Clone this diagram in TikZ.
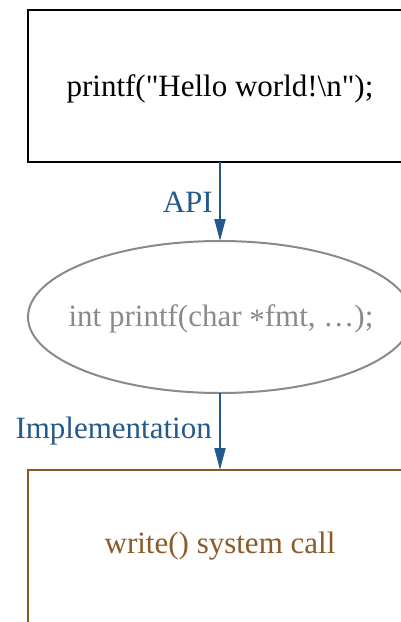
\documentclass[tikz,border=0pt]{standalone}
\usepackage{fontspec}
\setmainfont{Liberation Serif}[Ligatures=TeXOff]
\usetikzlibrary{arrows.meta}
\definecolor{apiblue}{HTML}{24598C}
\definecolor{implbrown}{HTML}{8C5A28}
\definecolor{protogray}{HTML}{8A8A8A}
\begin{document}
\begin{tikzpicture}[x=1pt,y=-1pt,
  lbl/.style={font=\fontsize{31}{37}\selectfont},
  flow/.style={draw=apiblue,line width=2pt,-{Triangle[length=22pt,width=11pt]}},
  elabel/.style={lbl,text=apiblue,anchor=east,inner sep=0pt}]
\useasboundingbox (0,0) rectangle (401,622);
\clip (0,0) rectangle (401,622);
% caller box
\draw[line width=2pt] (28,10) rectangle (430,162);
\node[lbl,inner sep=0pt] (caller) at (220,89) {printf("Hello world!\textbackslash n");};
\coordinate (callerS) at (220,162);
% prototype ellipse
\draw[protogray,line width=2pt] (220,317) ellipse [x radius=192, y radius=76];
\node[lbl,text=protogray,inner sep=0pt] (proto) at (221,319) {int printf(char \raisebox{-0.12em}{*}fmt, …);};
\coordinate (protoN) at (220,241);
\coordinate (protoS) at (220,393);
% implementation box
\draw[implbrown,line width=2pt] (28,470) rectangle (430,660);
\node[lbl,text=implbrown,inner sep=0pt] (impl) at (220,546) {write() system call};
\coordinate (implN) at (220,470);
% connectors
\draw[flow] (callerS) -- (protoN);
\draw[flow] (protoS) -- (implN);
\node[elabel] (api) at (213,202) {API};
\node[elabel] (implem) at (212,431) {Implementation};
\end{tikzpicture}
\end{document}
